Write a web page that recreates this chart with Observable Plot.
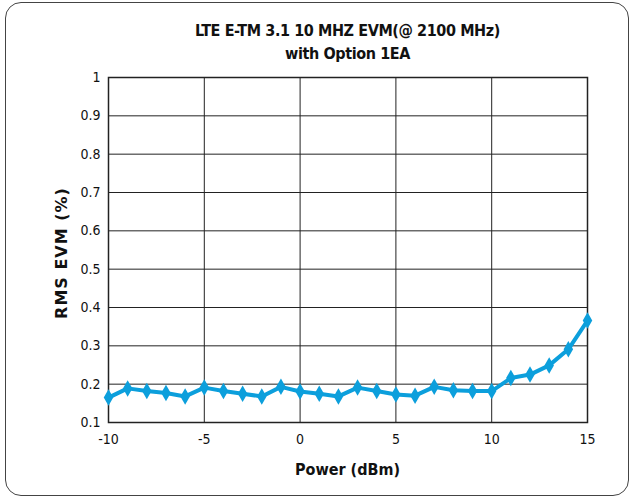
<!DOCTYPE html>
<html>
<head>
<meta charset="utf-8">
<script src="https://cdn.jsdelivr.net/npm/d3@7"></script>
<script src="https://cdn.jsdelivr.net/npm/@observablehq/plot@0.6"></script>
<style>
  html, body { margin: 0; padding: 0; background: #fff; }
  #wrap { position: relative; width: 636px; height: 504px; overflow: hidden; font-family: "DejaVu Sans Condensed", "DejaVu Sans", sans-serif; font-stretch: condensed; color: #111; }
  #border { position: absolute; left: 5px; top: 2px; width: 622px; height: 492px; border: 1.5px solid #444; border-radius: 16px; }
  #title { position: absolute; left: 108px; width: 479px; top: 19px; text-align: center; font-weight: bold; font-size: 16px; line-height: 23px; letter-spacing: -0.4px; }
  #xlabel { position: absolute; left: 108px; width: 479px; top: 460px; text-align: center; font-weight: bold; font-size: 16px; }
  #ylabel { position: absolute; left: 61px; top: 253px; transform: translate(-50%, -50%) rotate(-90deg); white-space: nowrap; font-weight: bold; font-size: 16px; font-family: "DejaVu Sans", sans-serif; font-stretch: normal; letter-spacing: 1px; }
  #chart { position: absolute; left: 0; top: 0; }
</style>
</head>
<body>
<div id="wrap">
  <div id="border"></div>
  <div id="chart"></div>
  <div id="title">LTE E-TM 3.1 10 MHZ EVM(@ 2100 MHz)<br>with Option 1EA</div>
  <div id="xlabel">Power (dBm)</div>
  <div id="ylabel">RMS EVM (%)</div>
</div>
<script>
const powerDbm = [-10, -9, -8, -7, -6, -5, -4, -3, -2, -1, 0, 1, 2, 3, 4, 5, 6, 7, 8, 9, 10, 11, 12, 13, 14, 15];
const rmsEvm = [0.165, 0.189, 0.182, 0.177, 0.168, 0.191, 0.182, 0.175, 0.168, 0.193, 0.181, 0.175, 0.168, 0.191, 0.182, 0.173, 0.170, 0.193, 0.184, 0.182, 0.182, 0.216, 0.225, 0.249, 0.291, 0.366];
const xTicks = [-10, -5, 0, 5, 10, 15];
const xGrid = [-5, 0, 5, 10];
const yTicks = [0.1, 0.2, 0.3, 0.4, 0.5, 0.6, 0.7, 0.8, 0.9, 1];

const data = powerDbm.map((p, i) => ({power: p, evm: rmsEvm[i]}));
const lineColor = "#0c9fdc";

const chart = Plot.plot({
  width: 636,
  height: 504,
  marginLeft: 108,
  marginRight: 49,
  marginTop: 77,
  marginBottom: 82,
  style: {fontFamily: '"DejaVu Sans Condensed", "DejaVu Sans", sans-serif', fontStretch: "condensed", fontSize: "14px", color: "#111", background: "transparent"},
  x: {domain: [-10, 15], ticks: xTicks, tickSize: 0, tickPadding: 12, tickFormat: d => String(d), label: null},
  y: {domain: [0.1, 1], ticks: yTicks, tickSize: 0, tickPadding: 8, tickFormat: d => String(+d.toFixed(1)), label: null},
  marks: [
    Plot.gridY(yTicks, {stroke: "#222", strokeOpacity: 1, strokeWidth: 1}),
    Plot.gridX(xGrid, {stroke: "#222", strokeOpacity: 1, strokeWidth: 1}),
    Plot.frame({stroke: "#222", strokeWidth: 1.5}),
    Plot.line(data, {x: "power", y: "evm", stroke: lineColor, strokeWidth: 4, strokeLinejoin: "round"}),
    Plot.dot(data, {x: "power", y: "evm", symbol: "diamond", fill: lineColor, r: 5})
  ]
});
document.getElementById("chart").appendChild(chart);
</script>
</body>
</html>
